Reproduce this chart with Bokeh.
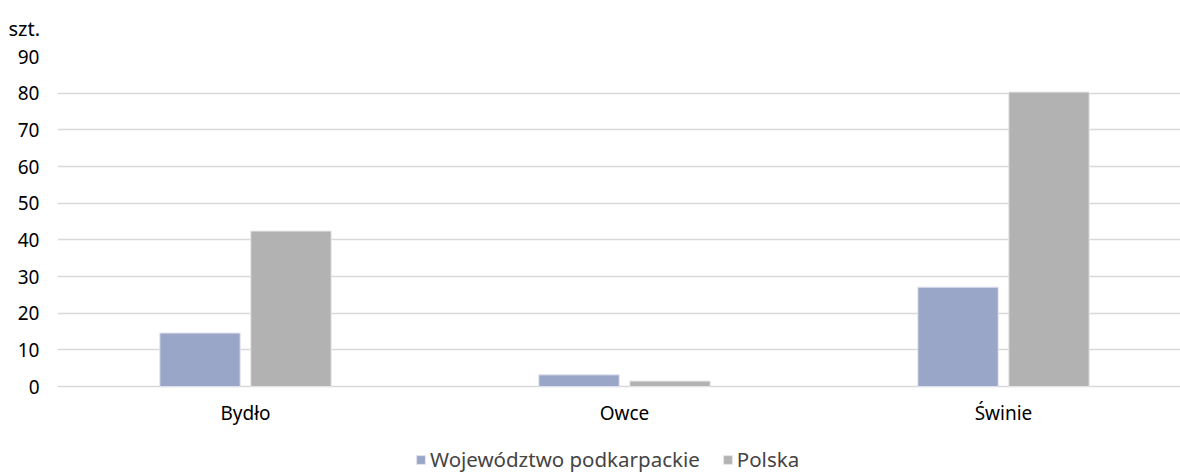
from bokeh.plotting import figure
from bokeh.models import ColumnDataSource, Range1d, FixedTicker, Legend, LegendItem
from bokeh.embed import file_html
from bokeh.resources import INLINE

categories = ["Bydło", "Owce", "Świnie"]
podkarpackie = [14.6, 3.2, 27.1]
polska = [42.4, 1.5, 80.3]
series_names = ["Województwo podkarpackie", "Polska"]
y_ticks = [0, 10, 20, 30, 40, 50, 60, 70, 80, 90]
unit_label = "szt."

FONT = "Noto Sans"
BLUE = "#9aa6c8"
GRAY = "#b2b2b2"

xs = list(range(len(categories)))
off = 0.12
bw = 0.212

src1 = ColumnDataSource(dict(x=[v - off for v in xs], top=podkarpackie))
src2 = ColumnDataSource(dict(x=[v + off for v in xs], top=polska))

p = figure(width=1180, height=473, output_backend="svg", toolbar_location=None,
           x_range=Range1d(-0.496, 2.467), y_range=Range1d(-23.7, 90),
           min_border_left=57, min_border_right=0, min_border_top=56, min_border_bottom=0,
           title=unit_label)
p.outline_line_color = None
p.background_fill_color = "white"
p.border_fill_color = "white"

p.title.text_font = FONT
p.title.text_font_size = "20px"
p.title.text_font_style = "normal"
p.title.text_color = "#000000"
p.title.align = "left"
p.title.vertical_align = "top"
p.title.offset = -49
p.title.standoff = 25

r1 = p.vbar(x="x", top="top", bottom=0, width=bw, source=src1, fill_color=BLUE, line_color="#dfe3ee", line_width=1)
r2 = p.vbar(x="x", top="top", bottom=0, width=bw, source=src2, fill_color=GRAY, line_color="#e6e6e6", line_width=1)

p.xgrid.grid_line_color = None
p.ygrid.grid_line_color = "#d9d9d9"
p.ygrid.grid_line_width = 1.5
p.yaxis.ticker = FixedTicker(ticks=y_ticks)
p.xaxis.ticker = FixedTicker(ticks=xs)
p.xaxis.major_label_overrides = {i: c for i, c in enumerate(categories)}
p.xaxis.fixed_location = 0

for ax in (p.xaxis, p.yaxis):
    ax.axis_line_color = None
    ax.major_tick_line_color = None
    ax.minor_tick_line_color = None
    ax.major_label_text_font = FONT
    ax.major_label_text_font_size = "19px"
    ax.major_label_text_color = "#000000"
p.yaxis.major_label_standoff = 12
p.xaxis.major_label_standoff = 7

legend = Legend(items=[LegendItem(label=series_names[0], renderers=[r1]),
                       LegendItem(label=series_names[1], renderers=[r2])],
                orientation="horizontal", location=(358, 0),
                label_text_font=FONT, label_text_font_size="20.5px",
                glyph_width=11, glyph_height=11, label_height=18, padding=0, margin=0,
                spacing=22, label_standoff=4, border_line_color=None,
                background_fill_alpha=0)
p.add_layout(legend, "center")

open("out.html", "w").write(file_html(p, INLINE))
